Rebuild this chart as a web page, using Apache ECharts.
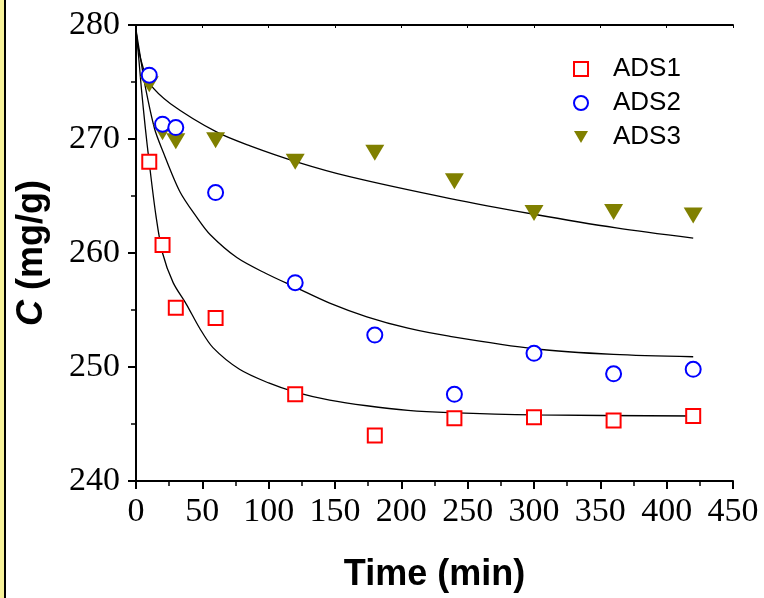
<!DOCTYPE html>
<html>
<head>
<meta charset="utf-8">
<script src="https://cdn.jsdelivr.net/npm/echarts@6/dist/echarts.min.js"></script>
<style>
  html, body { margin: 0; padding: 0; background: #fff; }
  #chart { width: 764px; height: 598px; }
</style>
</head>
<body>
<div id="chart"></div>
<script>
// measured points (time in min, C in mg/g)
const times = [10, 20, 30, 60, 120, 180, 240, 300, 360, 420]
const ads1 = [268.0, 260.7, 255.2, 254.3, 247.6, 244.0, 245.5, 245.6, 245.3, 245.7]
const ads2 = [275.6, 271.3, 271.0, 265.3, 257.4, 252.8, 247.6, 251.2, 249.4, 249.8]
const ads3 = [274.8, 270.6, 269.8, 269.9, 268.0, 268.8, 266.3, 263.5, 263.6, 263.3]

// fitted curves
const fit1X = [0, 2, 4, 7, 10, 15, 20, 28, 38, 48, 58, 78, 100, 120, 146, 174, 205, 236, 300, 420]
const fit1Y = [279.6, 277.2, 274.5, 271.0, 267.9, 263.3, 260.0, 257.4, 255.5, 253.4, 251.7, 249.8, 248.6, 247.8, 247.1, 246.6, 246.2, 246.0, 245.8, 245.7]
const fit2X = [0, 3, 7, 14, 20, 33, 46, 56, 76, 98, 120, 146, 174, 205, 236, 300, 360, 420]
const fit2Y = [279.6, 277.4, 274.6, 270.9, 269.0, 265.4, 263.1, 261.6, 259.6, 258.2, 257.0, 255.6, 254.4, 253.4, 252.7, 251.6, 251.1, 250.9]
const fit3X = [0, 2, 5, 10, 26, 61, 86, 121, 161, 236, 300, 362, 420]
const fit3Y = [279.4, 277.8, 276.4, 274.9, 273.1, 270.6, 269.4, 268.0, 266.7, 264.8, 263.4, 262.2, 261.3]

const names = ['ADS1', 'ADS2', 'ADS3']
const triDown = 'path://M0,0L20,0L10,17Z'

const pair = (xs, ys) => xs.map((x, i) => [x, ys[i]])

const chart = echarts.init(document.getElementById('chart'))

const labelFont = { fontFamily: 'Liberation Serif', fontSize: 34, color: '#000' }
const lineStyle = { color: '#000', width: 2 }

function fitSeries(xs, ys) {
  return {
    type: 'line',
    data: pair(xs, ys),
    smooth: 0.3,
    showSymbol: false,
    silent: true,
    lineStyle: { color: '#000', width: 1.3 },
    z: 2,
  }
}

chart.setOption({
  animation: false,
  backgroundColor: '#fff',
  grid: { left: 136, right: 31, top: 25, bottom: 112 },
  legend: {
    data: names,
    orient: 'vertical',
    left: 568,
    top: 51,
    itemGap: 8,
    itemWidth: 14,
    itemHeight: 14,
    textStyle: { fontFamily: 'Liberation Sans', fontSize: 26, color: '#000', padding: [0, 0, 0, 20] },
  },
  xAxis: [
    {
      type: 'value',
      min: 0,
      max: 450,
      interval: 50,
      name: 'Time (min)',
      nameLocation: 'middle',
      nameGap: 76,
      nameTextStyle: { fontFamily: 'Liberation Sans', fontWeight: 'bold', fontSize: 36, color: '#000' },
      axisLine: { lineStyle },
      axisTick: { inside: false, length: 8, lineStyle },
      minorTick: { show: true, splitNumber: 2, length: 5, lineStyle: { color: '#000', width: 1.5 } },
      axisLabel: Object.assign({ margin: 14 }, labelFont),
      splitLine: { show: false },
    },
    {
      type: 'value',
      position: 'top',
      min: 0,
      max: 450,
      interval: 50,
      axisLine: { show: true, lineStyle },
      axisTick: { inside: true, length: 3, lineStyle: { color: '#000', width: 1 } },
      axisLabel: { show: false },
      splitLine: { show: false },
    },
  ],
  yAxis: [
    {
      type: 'value',
      min: 240,
      max: 280,
      interval: 10,
      name: '{i|C} (mg/g)',
      nameLocation: 'middle',
      nameGap: 86,
      nameRotate: 90,
      nameTextStyle: {
        fontFamily: 'Liberation Sans', fontWeight: 'bold', fontSize: 36, color: '#000',
        rich: { i: { fontFamily: 'Liberation Sans', fontWeight: 'bold', fontStyle: 'italic', fontSize: 36, color: '#000' } },
      },
      axisLine: { lineStyle },
      axisTick: { inside: false, length: 8, lineStyle },
      minorTick: { show: true, splitNumber: 2, length: 5, lineStyle: { color: '#000', width: 1.5 } },
      axisLabel: Object.assign({ margin: 16 }, labelFont),
      splitLine: { show: false },
    },
    {
      type: 'value',
      position: 'right',
      min: 240,
      max: 280,
      interval: 10,
      axisLine: { show: true, lineStyle },
      axisTick: { inside: true, length: 3, lineStyle: { color: '#000', width: 1 } },
      axisLabel: { show: false },
      splitLine: { show: false },
    },
  ],
  graphic: [
    { type: 'rect', shape: { x: 0, y: 0, width: 4, height: 598 }, style: { fill: '#f7f29a' } },
    { type: 'rect', shape: { x: 4, y: 0, width: 2, height: 598 }, style: { fill: '#000' } },
  ],
  series: [
    fitSeries(fit1X, fit1Y),
    fitSeries(fit2X, fit2Y),
    fitSeries(fit3X, fit3Y),
    {
      name: 'ADS1',
      type: 'scatter',
      data: pair(times, ads1),
      symbol: 'emptyRect',
      symbolSize: 14,
      itemStyle: { color: '#ff0000', borderColor: '#ff0000', borderWidth: 1.5, opacity: 1 },
      z: 3,
    },
    {
      name: 'ADS2',
      type: 'scatter',
      data: pair(times, ads2),
      symbol: 'emptyCircle',
      symbolSize: 15,
      itemStyle: { color: '#0000ff', borderColor: '#0000ff', borderWidth: 1.5, opacity: 1 },
      z: 4,
    },
    {
      name: 'ADS3',
      type: 'scatter',
      data: pair(times, ads3),
      symbol: triDown,
      symbolSize: [19, 16],
      itemStyle: { color: '#808000', opacity: 1 },
      z: 3,
    },
  ],
})
</script>
</body>
</html>
